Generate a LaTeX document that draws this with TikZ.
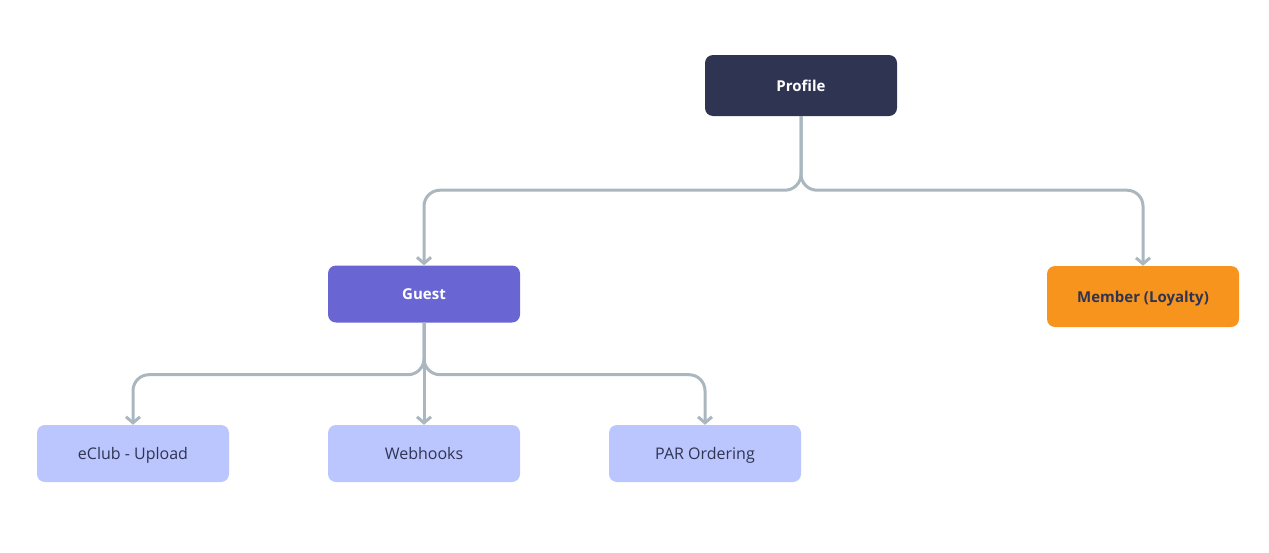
\documentclass[tikz,border=0pt]{standalone}
\usepackage{fontspec}
\setmainfont{Open Sans}
\usetikzlibrary{arrows.meta,positioning}
\definecolor{ProfileNavy}{HTML}{2F3452}
\definecolor{GuestPurple}{HTML}{6966D4}
\definecolor{MemberOrange}{HTML}{F7941D}
\definecolor{ChannelBlue}{HTML}{BBC6FE}
\definecolor{LinkGray}{HTML}{AAB7BF}
\tikzset{
  box/.style={rounded corners=8pt, minimum width=192pt, minimum height=57pt, align=center, inner sep=0pt, text height=11.5pt, text depth=0pt, font=\fontsize{16}{19}\selectfont},
  rootbox/.style={box, fill=ProfileNavy, text=white, minimum height=61pt, font=\fontsize{15}{18}\selectfont\bfseries},
  guestbox/.style={box, fill=GuestPurple, text=white, font=\fontsize{15}{18}\selectfont\bfseries},
  memberbox/.style={box, fill=MemberOrange, text=ProfileNavy, minimum height=61pt, font=\fontsize{15}{18}\selectfont\bfseries},
  channelbox/.style={box, fill=ChannelBlue, text=ProfileNavy},
  arr/.style={-{Straight Barb[length=6pt,width=14pt]}, line width=3pt, draw=LinkGray, rounded corners=16pt}
}
\begin{document}
\begin{tikzpicture}[x=1pt, y=-1pt]
\useasboundingbox (0,0) rectangle (1269,552);

\node[rootbox] (profile) at (801,85.5) {Profile};
\node[guestbox] (guest) at (424,294) {Guest};
\node[memberbox] (member) at (1143,296.5) {Member (Loyalty)};

\node[channelbox] (eclub) at (133,453.5) {eClub - Upload};
\node[channelbox] (webhooks) at (424,453.5) {Webhooks};
\node[channelbox] (par) at (705,453.5) {PAR Ordering};

% profile -> guest / member
\draw[arr] (profile.south) -- ++(0,74) -| (guest.north);
\draw[arr] (profile.south) -- ++(0,74) -| (member.north);

% guest -> channels
\draw[arr] (guest.south) -- ++(0,52) -| (eclub.north);
\draw[arr] (guest.south) -- (webhooks.north);
\draw[arr] (guest.south) -- ++(0,52) -| (par.north);

\end{tikzpicture}
\end{document}
